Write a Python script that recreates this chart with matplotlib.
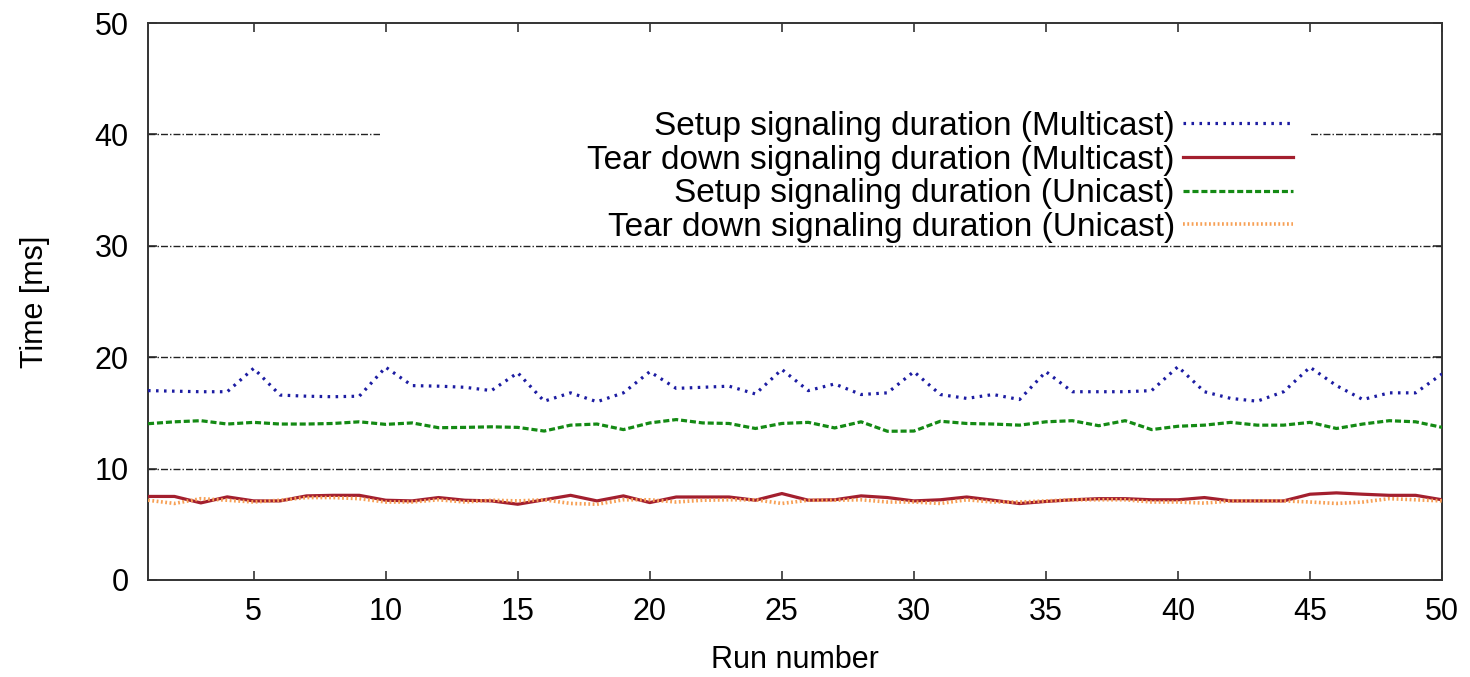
import numpy as np
import matplotlib.pyplot as plt
from matplotlib.patches import Rectangle

plt.rcParams['font.family'] = ['Liberation Sans', 'DejaVu Sans']

runs = np.arange(1, 51)

setup_mc = [17.0, 16.95, 16.9, 16.9, 19.0, 16.6, 16.5, 16.45, 16.5, 19.1,
            17.45, 17.4, 17.3, 17.0, 18.6, 16.05, 16.8, 16.0, 16.8, 18.7,
            17.2, 17.3, 17.4, 16.7, 18.9, 17.0, 17.6, 16.65, 16.8, 18.7,
            16.65, 16.3, 16.65, 16.2, 18.7, 16.9, 16.9, 16.9, 17.0, 19.15,
            16.9, 16.3, 16.05, 16.9, 19.1, 17.45, 16.2, 16.8, 16.8, 18.5]

teardown_mc = [7.5, 7.5, 6.92, 7.46, 7.1, 7.1, 7.55, 7.6, 7.6, 7.16,
               7.1, 7.4, 7.16, 7.1, 6.8, 7.2, 7.6, 7.1, 7.55, 6.95,
               7.45, 7.45, 7.45, 7.16, 7.76, 7.16, 7.2, 7.55, 7.4, 7.1,
               7.2, 7.45, 7.16, 6.86, 7.05, 7.2, 7.3, 7.3, 7.2, 7.2,
               7.4, 7.1, 7.1, 7.1, 7.7, 7.82, 7.7, 7.6, 7.6, 7.2]

setup_uc = [14.03, 14.2, 14.3, 14.0, 14.15, 14.0, 14.0, 14.05, 14.2, 13.97,
            14.1, 13.67, 13.7, 13.75, 13.7, 13.37, 13.9, 14.0, 13.5, 14.1,
            14.4, 14.1, 14.05, 13.6, 14.05, 14.15, 13.65, 14.2, 13.35, 13.37,
            14.25, 14.05, 14.0, 13.9, 14.2, 14.3, 13.85, 14.3, 13.5, 13.8,
            13.9, 14.15, 13.9, 13.9, 14.15, 13.6, 14.0, 14.3, 14.2, 13.7]

teardown_uc = [7.16, 6.87, 7.3, 7.16, 7.0, 7.16, 7.4, 7.4, 7.3, 7.0,
               7.0, 7.2, 7.0, 7.16, 7.1, 7.2, 6.87, 6.8, 7.2, 7.2,
               7.0, 7.16, 7.2, 7.2, 6.87, 7.16, 7.16, 7.2, 7.0, 7.0,
               6.87, 7.2, 7.0, 7.0, 7.1, 7.2, 7.2, 7.2, 7.0, 7.0,
               6.9, 7.1, 7.1, 7.1, 7.0, 6.87, 7.0, 7.3, 7.2, 7.1]

labels = ['Setup signaling duration (Multicast)',
          'Tear down signaling duration (Multicast)',
          'Setup signaling duration (Unicast)',
          'Tear down signaling duration (Unicast)']

fig = plt.figure(figsize=(14.7, 6.77), dpi=100)
ax = fig.add_axes([0.1007, 0.1433, 0.8803, 0.8227])

# grid only on y, gnuplot style dash-dot
for yv in [10, 20, 30, 40]:
    ax.axhline(yv, color='#222222', lw=1.0, dashes=(5, 1.5, 1, 1.5), zorder=1)

# white box behind the key, gnuplot leaves a gap in the grid there
ax.add_patch(Rectangle((0.179, 0.61), 0.719, 0.25, transform=ax.transAxes,
                       facecolor='white', edgecolor='none', zorder=2))

ax.plot(runs, setup_mc, color='#1c1ca2', lw=2.3, linestyle=(0, (0.8, 1.7)),
        label=labels[0], zorder=4)
ax.plot(runs, teardown_mc, color='#a31f2e', lw=2.3, linestyle='-',
        label=labels[1], zorder=4)
ax.plot(runs, setup_uc, color='#148a14', lw=2.3, linestyle=(0, (1.9, 0.9)),
        label=labels[2], zorder=4)
ax.plot(runs, teardown_uc, color='#f7a055', lw=2.6, linestyle=(0, (0.5, 0.7)),
        label=labels[3], zorder=5)

ax.set_xlim(1, 50)
ax.set_ylim(0, 50)
ax.set_xticks(np.arange(5, 51, 5))
ax.set_yticks(np.arange(0, 51, 10))

ax.tick_params(direction='in', length=6.5, width=1.1, color='#222222',
               labelsize=22, top=True, right=True)
ax.tick_params(axis='x', pad=12)
ax.tick_params(axis='y', pad=14)
for s in ax.spines.values():
    s.set_linewidth(1.4)
    s.set_color('#333333')

ax.set_xlabel('Run number', fontsize=22, labelpad=13)
ax.set_ylabel('Time [ms]', fontsize=22, labelpad=32)

leg = ax.legend(loc='upper right', bbox_to_anchor=(0.885, 0.842),
                markerfirst=False, frameon=False, fontsize=24,
                handlelength=3.3, handletextpad=0.25, labelspacing=0.08,
                borderpad=0, borderaxespad=0)
for t in leg.get_texts():
    t.set_ha('right')
leg.set_zorder(6)

fig.savefig('out.png', dpi=100)
